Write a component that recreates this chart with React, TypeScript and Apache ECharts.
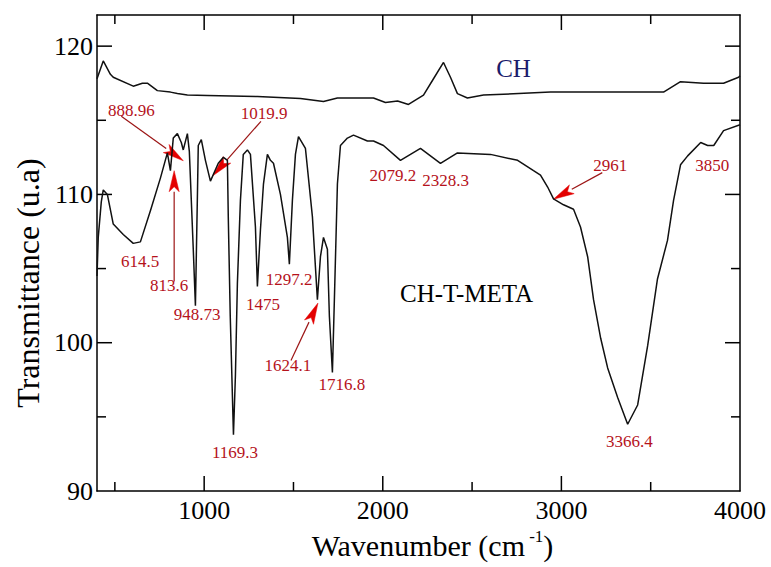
import React, { useEffect, useRef } from "react";
import * as echarts from "echarts";

// ---- Data: CH-T-META spectrum (wavenumber cm-1, transmittance) ----
const metaWn = [
  400, 407, 424, 435, 458, 491, 547, 603, 643, 699, 755, 794, 811, 827, 850, 872, 883, 906, 917, 939,
  951, 962, 967, 984, 1007, 1035, 1079, 1108, 1130, 1135, 1146, 1164, 1175, 1186, 1203, 1219, 1242, 1259,
  1287, 1298, 1315, 1332, 1354, 1371, 1388, 1427, 1466, 1477, 1494, 1511, 1528, 1567, 1606, 1623, 1634,
  1651, 1668, 1690, 1701, 1718, 1729, 1746, 1763, 1802, 1836, 1914, 1948, 2004, 2099, 2211, 2323, 2418,
  2603, 2755, 2844, 2883, 2923, 2956, 3012, 3068, 3107, 3147, 3180, 3220, 3259, 3315, 3371, 3427, 3483,
  3538, 3594, 3628, 3667, 3707, 3780, 3819, 3853, 3908, 4000,
];
const metaT = [
  104.5, 107.1, 109.5, 110.3, 110.0, 108.0, 107.3, 106.7, 106.8, 108.9, 111.1, 112.8, 111.6, 113.8, 114.1,
  113.5, 113.0, 114.1, 112.9, 106.3, 102.5, 109.8, 113.3, 113.7, 112.3, 110.9, 112.1, 112.5, 112.3, 108.5,
  101.8, 93.8, 97.8, 104.0, 109.6, 112.7, 113.0, 112.7, 107.8, 103.8, 107.6, 110.7, 112.7, 112.3, 112.1,
  110.0, 107.1, 105.3, 109.6, 112.7, 113.9, 113.1, 108.5, 105.1, 102.9, 105.8, 107.1, 106.3, 101.8, 98.0,
  102.9, 110.7, 113.3, 113.8, 114.0, 113.6, 113.6, 113.3, 112.3, 113.1, 112.1, 112.8, 112.7, 112.3, 111.6,
  111.3, 110.5, 109.7, 109.3, 109.0, 107.8, 105.8, 102.9, 100.3, 98.3, 96.3, 94.5, 95.8, 99.8, 104.3, 106.9,
  109.6, 112.0, 112.6, 113.5, 113.3, 113.3, 114.3, 114.7,
];

// ---- Data: CH spectrum ----
const chWn = [
  400, 435, 475, 491, 603, 654, 682, 738, 811, 850, 906, 1018, 1298, 1539, 1668, 1746, 1948, 2015, 2083,
  2144, 2228, 2284, 2340, 2379, 2418, 2474, 2564, 2939, 3314, 3572, 3667, 3796, 3908, 3992, 4000,
];
const chT = [
  117.8, 119.0, 118.1, 117.9, 117.3, 117.5, 117.5, 117.0, 116.9, 116.8, 116.7, 116.67, 116.6, 116.47, 116.27,
  116.5, 116.5, 116.2, 116.3, 116.07, 116.7, 117.8, 118.9, 117.9, 116.8, 116.5, 116.7, 116.9, 116.9, 116.9,
  117.6, 117.5, 117.5, 117.9, 118.0,
];

// ---- Axis ticks ----
const xLabels = [1000, 2000, 3000, 4000];
const xMajorTicks = [1000, 2000, 3000];
const xMinorTicks = [500, 1500, 2500, 3500];
const yLabels = [90, 100, 110, 120];
const yMajorTicks = [100, 110, 120];
const yMinorTicks = [95, 105, 115];

// ---- Peak annotations (text anchored in data coordinates) ----
const peakText = [
  "888.96", "1019.9", "2079.2", "2328.3", "2961", "3850", "614.5", "813.6", "948.73",
  "1475", "1297.2", "1624.1", "1716.8", "1169.3", "3366.4",
];
const peakX = [592, 1335, 2056, 2352, 3274, 3844, 642, 804, 961, 1330, 1475, 1469, 1771, 1173, 3380];
const peakY = [115.67, 115.47, 111.27, 110.93, 111.93, 111.93, 105.47, 103.87, 101.93, 102.6, 104.27, 98.47, 97.2, 92.6, 93.33];

// ---- Arrows: start (x1,y1) -> tip (x2,y2) ----
const arrowX1 = [536, 1318, 832, 1486, 3229];
const arrowY1 = [115.27, 114.93, 104.13, 98.8, 111.47];
const arrowX2 = [883, 1050, 832, 1637, 2955];
const arrowY2 = [112.27, 111.27, 111.6, 102.67, 109.67];

// ---- Series names ----
const seriesText = ["CH", "CH-T-META"];
const seriesX = [2732, 2469];
const seriesY = [118.47, 103.33];
const seriesColor = ["#1b1b6b", "#000000"];

const Y_TITLE = "Transmittance (u.a)";
const FONT = "'Liberation Serif', 'Times New Roman', serif";
const X_MIN = 400;
const X_MAX = 4000;
const Y_MIN = 90;
const Y_MAX = 122.1;

export default function App() {
  const ref = useRef<HTMLDivElement>(null);

  useEffect(() => {
    document.body.style.margin = "0";
    if (!ref.current) return;
    const chart = echarts.init(ref.current, undefined, { renderer: "svg" });

    const axisLineStyle = { color: "#000", width: 1.5 };
    const baseX = { type: "value", min: X_MIN, max: X_MAX, splitLine: { show: false }, axisTick: { show: false } };
    const baseY = { type: "value", min: Y_MIN, max: Y_MAX, splitLine: { show: false }, axisTick: { show: false } };
    const labelFmt = (v: number) => String(v);

    const tickData = [
      ...xMajorTicks.map((v) => [v, Y_MIN, 0, 15]),
      ...xMinorTicks.map((v) => [v, Y_MIN, 0, 9]),
      ...yMajorTicks.map((v) => [X_MIN, v, 1, 15]),
      ...yMinorTicks.map((v) => [X_MIN, v, 1, 9]),
    ];

    const option: any = {
      animation: false,
      backgroundColor: "#fff",
      textStyle: { fontFamily: FONT },
      grid: { left: 97, right: 31, top: 15, bottom: 70 },
      graphic: [
        {
          type: "text",
          x: 28,
          y: 283,
          rotation: Math.PI / 2,
          style: {
            text: Y_TITLE,
            fontSize: 32,
            fontFamily: FONT,
            fill: "#000",
            align: "center",
            verticalAlign: "middle",
          },
        },
      ],
      xAxis: [
        {
          ...baseX,
          position: "bottom",
          axisLine: { onZero: false, lineStyle: axisLineStyle },
          axisLabel: {
            customValues: xLabels,
            formatter: labelFmt,
            fontSize: 26,
            fontFamily: FONT,
            color: "#000",
            margin: 6,
          },
          name: "Wavenumber (cm{sup| -1})",
          nameLocation: "middle",
          nameGap: 37,
          nameTextStyle: {
            fontSize: 30,
            fontFamily: FONT,
            color: "#000",
            lineHeight: 34,
            padding: [0, 0, 0, 28],
            rich: { sup: { fontSize: 17, fontFamily: FONT, color: "#000", verticalAlign: "top", lineHeight: 20 } },
          },
        },
        {
          ...baseX,
          position: "top",
          axisLine: { onZero: false, lineStyle: axisLineStyle },
          axisLabel: { show: false },
        },
      ],
      yAxis: [
        {
          ...baseY,
          position: "left",
          axisLine: { show: true, onZero: false, lineStyle: axisLineStyle },
          axisLabel: {
            customValues: yLabels,
            formatter: labelFmt,
            fontSize: 26,
            fontFamily: FONT,
            color: "#000",
            margin: 4,
          },
        },
        {
          ...baseY,
          position: "right",
          axisLine: { show: true, onZero: false, lineStyle: axisLineStyle },
          axisLabel: { show: false },
        },
      ],
      series: [
        {
          name: "CH-T-META",
          type: "line",
          xAxisIndex: 0,
          yAxisIndex: 0,
          symbol: "none",
          lineStyle: { color: "#111", width: 1.5 },
          data: metaWn.map((w, i) => [w, metaT[i]]),
        },
        {
          name: "CH",
          type: "line",
          xAxisIndex: 0,
          yAxisIndex: 0,
          symbol: "none",
          lineStyle: { color: "#111", width: 1.5 },
          data: chWn.map((w, i) => [w, chT[i]]),
        },
        {
          // inward tick marks on all four sides of the frame
          name: "ticks",
          type: "custom",
          xAxisIndex: 0,
          yAxisIndex: 0,
          clip: false,
          silent: true,
          data: tickData,
          renderItem: (params: any, api: any) => {
            const cs = params.coordSys;
            const p = api.coord([api.value(0), api.value(1)]);
            const isY = api.value(2) === 1;
            const len = api.value(3);
            const st = { stroke: "#000", lineWidth: 1.5 };
            if (!isY) {
              const top = cs.y;
              const bottom = cs.y + cs.height;
              return {
                type: "group",
                children: [
                  { type: "line", shape: { x1: p[0], y1: bottom, x2: p[0], y2: bottom - len }, style: st },
                  { type: "line", shape: { x1: p[0], y1: top, x2: p[0], y2: top + len }, style: st },
                ],
              };
            }
            const left = cs.x;
            const right = cs.x + cs.width;
            return {
              type: "group",
              children: [
                { type: "line", shape: { x1: left, y1: p[1], x2: left + len, y2: p[1] }, style: st },
                { type: "line", shape: { x1: right, y1: p[1], x2: right - len, y2: p[1] }, style: st },
              ],
            };
          },
        },
        {
          name: "arrows",
          type: "custom",
          xAxisIndex: 0,
          yAxisIndex: 0,
          clip: false,
          silent: true,
          data: arrowX1.map((x, i) => [x, arrowY1[i], arrowX2[i], arrowY2[i]]),
          renderItem: (params: any, api: any) => {
            const p1 = api.coord([api.value(0), api.value(1)]);
            const p2 = api.coord([api.value(2), api.value(3)]);
            const dx = p2[0] - p1[0];
            const dy = p2[1] - p1[1];
            const len = Math.sqrt(dx * dx + dy * dy) || 1;
            const ux = dx / len;
            const uy = dy / len;
            const L = 21;
            const W = 5;
            const bx = p2[0] - ux * L;
            const by = p2[1] - uy * L;
            const nx = -uy;
            const ny = ux;
            return {
              type: "group",
              children: [
                {
                  type: "line",
                  shape: { x1: p1[0], y1: p1[1], x2: bx, y2: by },
                  style: { stroke: "#9c1515", lineWidth: 1.2 },
                },
                {
                  type: "polygon",
                  shape: {
                    points: [
                      [p2[0], p2[1]],
                      [bx + nx * W, by + ny * W],
                      [bx + ux * 5, by + uy * 5],
                      [bx - nx * W, by - ny * W],
                    ],
                  },
                  style: { fill: "#e30000", stroke: "#e30000", lineWidth: 0.5 },
                },
              ],
            };
          },
        },
        {
          name: "peakLabels",
          type: "custom",
          xAxisIndex: 0,
          yAxisIndex: 0,
          clip: false,
          silent: true,
          data: peakX.map((x, i) => [x, peakY[i]]),
          renderItem: (params: any, api: any) => {
            const p = api.coord([api.value(0), api.value(1)]);
            return {
              type: "text",
              x: p[0],
              y: p[1],
              style: {
                text: peakText[params.dataIndex],
                fill: "#b5121b",
                fontSize: 17,
                fontFamily: FONT,
                align: "center",
                verticalAlign: "middle",
              },
            };
          },
        },
        {
          name: "seriesLabels",
          type: "custom",
          xAxisIndex: 0,
          yAxisIndex: 0,
          clip: false,
          silent: true,
          data: seriesX.map((x, i) => [x, seriesY[i]]),
          renderItem: (params: any, api: any) => {
            const p = api.coord([api.value(0), api.value(1)]);
            return {
              type: "text",
              x: p[0],
              y: p[1],
              style: {
                text: seriesText[params.dataIndex],
                fill: seriesColor[params.dataIndex],
                fontSize: 25,
                fontFamily: FONT,
                align: "center",
                verticalAlign: "middle",
              },
            };
          },
        },
      ],
    };

    chart.setOption(option);
    return () => {
      chart.dispose();
    };
  }, []);

  return <div ref={ref} style={{ width: 771, height: 567 }} />;
}
